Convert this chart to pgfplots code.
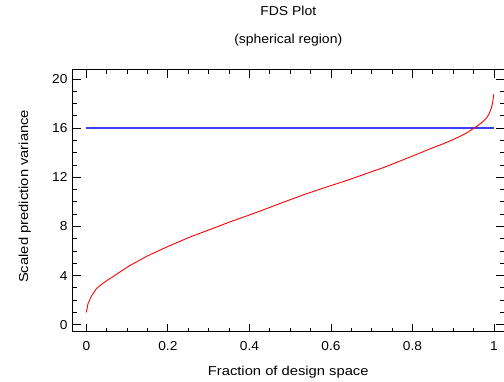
\documentclass[border=0pt]{standalone}
\usepackage{pgfplots}
\pgfplotsset{compat=1.18}
\usepackage{fontspec}
\setmainfont{Liberation Sans}
\newfontfamily\labfont[FakeStretch=1.14]{Liberation Sans}
\newfontfamily\titfont[FakeStretch=1.08]{Liberation Sans}
\newfontfamily\tickfont[FakeStretch=1.06]{Liberation Sans}
\definecolor{fdsblue}{RGB}{60,60,255}
\definecolor{fdsred}{RGB}{255,0,0}
\begin{document}
\begin{tikzpicture}
\begin{axis}[
  at={(0,0)}, anchor=south west,
  scale only axis,
  width=431bp, height=262bp,
  xmin=-0.0329, xmax=1.0233,
  ymin=-0.569, ymax=20.73,
  xtick={0,0.2,0.4,0.6,0.8,1},
  xticklabels={0,0.2,0.4,0.6,0.8,1},
  ytick={0,4,8,12,16,20},
  minor x tick num=3,
  minor y tick num=3,
  tick align=inside,
  tick pos=both,
  major tick length=8bp,
  minor tick length=4bp,
  tick style={black, line width=0.8bp},
  axis line style={draw=none},
  /pgf/number format/assume math mode=true,
  ticklabel style={font=\tickfont\fontsize{13}{15}\selectfont},
  xticklabel style={yshift=-6bp},
  yticklabel style={xshift=-2bp},
  label style={font=\labfont\fontsize{13}{15}\selectfont},
  xlabel={Fraction of design space},
  xlabel style={at={(axis description cs:0.5,-0.153)}, anchor=center},
  ylabel={Scaled prediction variance},
  ylabel style={at={(axis description cs:-0.112,0.517)}, anchor=center},
  title={FDS Plot\\(spherical region)},
  title style={font=\titfont\fontsize{13}{28}\selectfont, align=center, at={(axis description cs:0.5,1)}, anchor=south, yshift=14bp},
  clip=false,
]
\draw[black, line width=0.9bp] (rel axis cs:1,1) -- (rel axis cs:0,1) -- (rel axis cs:0,0) -- (rel axis cs:1,0);
\addplot[draw=fdsblue, line width=1.3bp] coordinates {(0,16) (1,16)};
\addplot[draw=fdsred, line width=0.9bp] coordinates {
(0,1.0) (0.004,1.7) (0.012,2.3) (0.025,2.95) (0.04,3.35) (0.053,3.65)
(0.065,3.9) (0.085,4.35) (0.106,4.8) (0.147,5.55) (0.199,6.35)
(0.253,7.12) (0.31,7.83) (0.351,8.35) (0.4,8.93) (0.425,9.23)
(0.482,9.95) (0.535,10.6) (0.589,11.2) (0.64,11.75) (0.687,12.3)
(0.73,12.8) (0.768,13.3) (0.817,13.95) (0.842,14.3) (0.87,14.65)
(0.899,15.05) (0.93,15.55) (0.956,16.1) (0.972,16.5) (0.981,16.8)
(0.988,17.15) (0.993,17.6) (0.996,18.0) (0.998,18.4) (0.999,18.75)
};
\end{axis}
\path[use as bounding box] (-73bp,-49bp) rectangle (431bp,332bp);
\end{tikzpicture}
\end{document}
